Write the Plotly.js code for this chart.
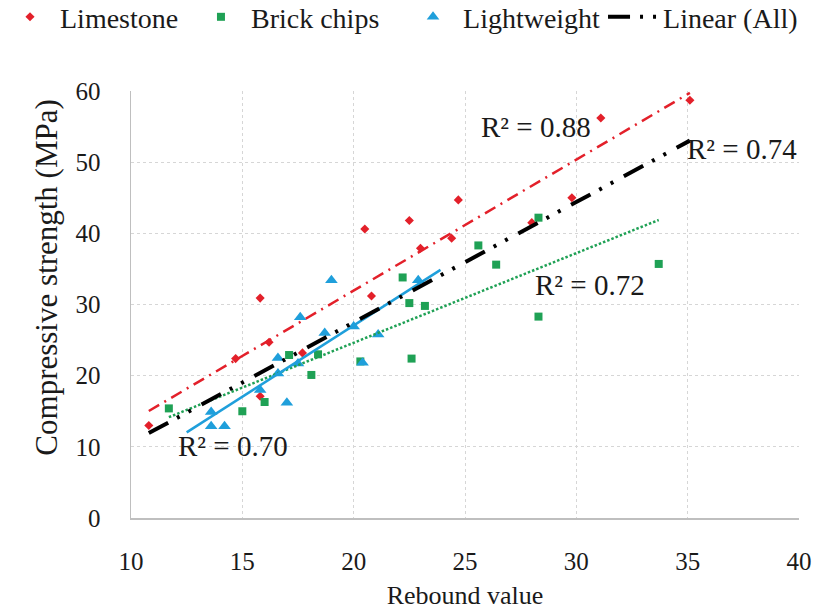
<!DOCTYPE html>
<html><head><meta charset="utf-8">
<script src="https://cdn.plot.ly/plotly-3.0.1.min.js"></script>
<style>html,body{margin:0;padding:0;background:#fff}#chart{width:821px;height:611px}
.main-svg text{font-family:"Liberation Serif","Times New Roman",serif !important}</style>
</head><body><div id="chart"></div>
<script>
// Limestone
const limestoneX = [10.8, 14.7, 15.8, 15.8, 16.2, 17.7, 20.5, 20.8, 22.5, 23.0, 24.4, 24.7, 28.0, 29.8, 31.1, 35.1];
const limestoneY = [13.0, 22.4, 30.9, 17.1, 24.7, 23.2, 40.6, 31.2, 41.8, 37.9, 39.3, 44.7, 41.5, 45.0, 56.2, 58.7];
// Brick chips
const brickX = [11.7, 15.0, 16.0, 17.1, 18.1, 18.4, 20.3, 22.2, 22.5, 23.2, 22.6, 25.6, 26.4, 28.3, 28.3, 33.7];
const brickY = [15.4, 15.0, 16.3, 22.9, 20.1, 23.0, 22.0, 33.8, 30.2, 29.8, 22.4, 38.3, 35.6, 42.2, 28.3, 35.7];
// Lightweight
const lightX = [13.6, 13.6, 14.2, 15.8, 17.0, 16.6, 16.6, 17.6, 17.5, 18.7, 19.0, 20.0, 20.4, 21.1, 22.9];
const lightY = [14.9, 12.9, 12.9, 18.0, 16.2, 22.5, 20.3, 28.2, 21.7, 26.0, 33.4, 26.9, 21.8, 25.8, 33.4];
// Trendline x extents
const limestoneTrendX = [10.8, 35.1];
const brickTrendX = [11.7, 33.7];
const lightTrendX = [12.5, 23.9];
const allTrendX = [10.8, 35.1];
// R² labels
const r2Labels = ['R² = 0.88', 'R² = 0.74', 'R² = 0.72', 'R² = 0.70'];
const r2X = [28.2, 37.45, 30.6, 14.6];
const r2Y = [54.9, 51.8, 32.7, 10.1];
const xTicks = [10, 15, 20, 25, 30, 35, 40];
const yTicks = [0, 10, 20, 30, 40, 50, 60];
const xTitle = 'Rebound value';
const yTitle = 'Compressive strength (MPa)';

function fit(xs, ys) {
  const n = xs.length;
  const mx = xs.reduce((a, b) => a + b, 0) / n;
  const my = ys.reduce((a, b) => a + b, 0) / n;
  let sxy = 0, sxx = 0;
  for (let i = 0; i < n; i++) { sxy += (xs[i] - mx) * (ys[i] - my); sxx += (xs[i] - mx) ** 2; }
  const b = sxy / sxx;
  return { a: my - b * mx, b: b };
}
function line(xs, ys, ext) {
  const f = fit(xs, ys);
  return { x: ext, y: ext.map(v => f.a + f.b * v) };
}
const allX = limestoneX.concat(brickX, lightX);
const allY = limestoneY.concat(brickY, lightY);

const RED = '#e3202a', GREEN = '#1fa155', BLUE = '#1f9fdb';
const lsL = line(limestoneX, limestoneY, limestoneTrendX);
const brL = line(brickX, brickY, brickTrendX);
const ltL = line(lightX, lightY, lightTrendX);
const alL = line(allX, allY, allTrendX);

const traces = [
  { x: limestoneX, y: limestoneY, mode: 'markers', type: 'scatter', name: 'Limestone', legend: 'legend',
    marker: { symbol: 'diamond', size: 7, color: RED } },
  { x: brickX, y: brickY, mode: 'markers', type: 'scatter', name: 'Brick chips', legend: 'legend2',
    marker: { symbol: 'square', size: 8, color: GREEN } },
  { x: lightX, y: lightY, mode: 'markers', type: 'scatter', name: 'Lightweight', legend: 'legend3',
    marker: { symbol: 'triangle-up', size: 11, color: BLUE } },
  { x: lsL.x, y: lsL.y, mode: 'lines', showlegend: false, line: { color: RED, width: 2.5, dash: '12px,6px,2px,6px' } },
  { x: brL.x, y: brL.y, mode: 'lines', showlegend: false, line: { color: GREEN, width: 2.5, dash: '2.5px,2px' } },
  { x: ltL.x, y: ltL.y, mode: 'lines', showlegend: false, line: { color: BLUE, width: 2.5 } },
  { x: alL.x, y: alL.y, mode: 'lines', name: 'Linear (All)', legend: 'legend4',
    line: { color: '#000', width: 4, dash: '22px,10px,3px,10px,3px,12px' } }
];

const FONT = 'Liberation Serif';
const TXT = '#1a1a1a';
function leg(x) {
  return { orientation: 'h', xref: 'container', yref: 'container', x: x, xanchor: 'left', y: 0.972, yanchor: 'middle',
    font: { family: FONT, size: 28, color: TXT }, itemwidth: 50, bgcolor: 'rgba(0,0,0,0)' };
}
const annotations = r2Labels.map((t, i) => ({
  x: r2X[i], y: r2Y[i], xref: 'x', yref: 'y', text: t, showarrow: false,
  font: { family: FONT, size: 29, color: TXT }
}));
annotations.push({
  xref: 'paper', yref: 'paper', x: -0.1257, y: 0.563, xanchor: 'center', yanchor: 'middle',
  text: yTitle, textangle: -90, showarrow: false, font: { family: FONT, size: 31, color: TXT }
});
const layout = {
  width: 821, height: 611,
  margin: { l: 131, r: 22, t: 91, b: 93 },
  paper_bgcolor: '#fff', plot_bgcolor: '#fff',
  font: { family: FONT, color: TXT, size: 25 },
  showlegend: true,
  legend: leg(-0.018), legend2: leg(0.2326), legend3: leg(0.4909), legend4: leg(0.7345),
  xaxis: {
    range: [10, 40], tickvals: xTicks, ticktext: xTicks.map(String),
    showgrid: true, gridcolor: '#d6d6d6', griddash: 'dot', gridwidth: 1,
    showline: true, linecolor: '#bfbfbf', linewidth: 1.5, zeroline: false, ticks: '',
    ticklabelstandoff: 20, tickfont: { family: FONT, size: 25, color: TXT }, automargin: false,
    title: { text: xTitle, font: { family: FONT, size: 26, color: TXT }, standoff: 12 }
  },
  yaxis: {
    range: [0, 60], tickvals: yTicks, ticktext: yTicks.map(String),
    showgrid: true, gridcolor: '#d6d6d6', griddash: 'dot', gridwidth: 1,
    showline: true, linecolor: '#bfbfbf', linewidth: 1.5, zeroline: false, ticks: '',
    ticklabelstandoff: 24, tickfont: { family: FONT, size: 25, color: TXT }, automargin: false
  },
  annotations: annotations
};
Plotly.newPlot('chart', traces, layout, { displayModeBar: false, staticPlot: true });
</script></body></html>
